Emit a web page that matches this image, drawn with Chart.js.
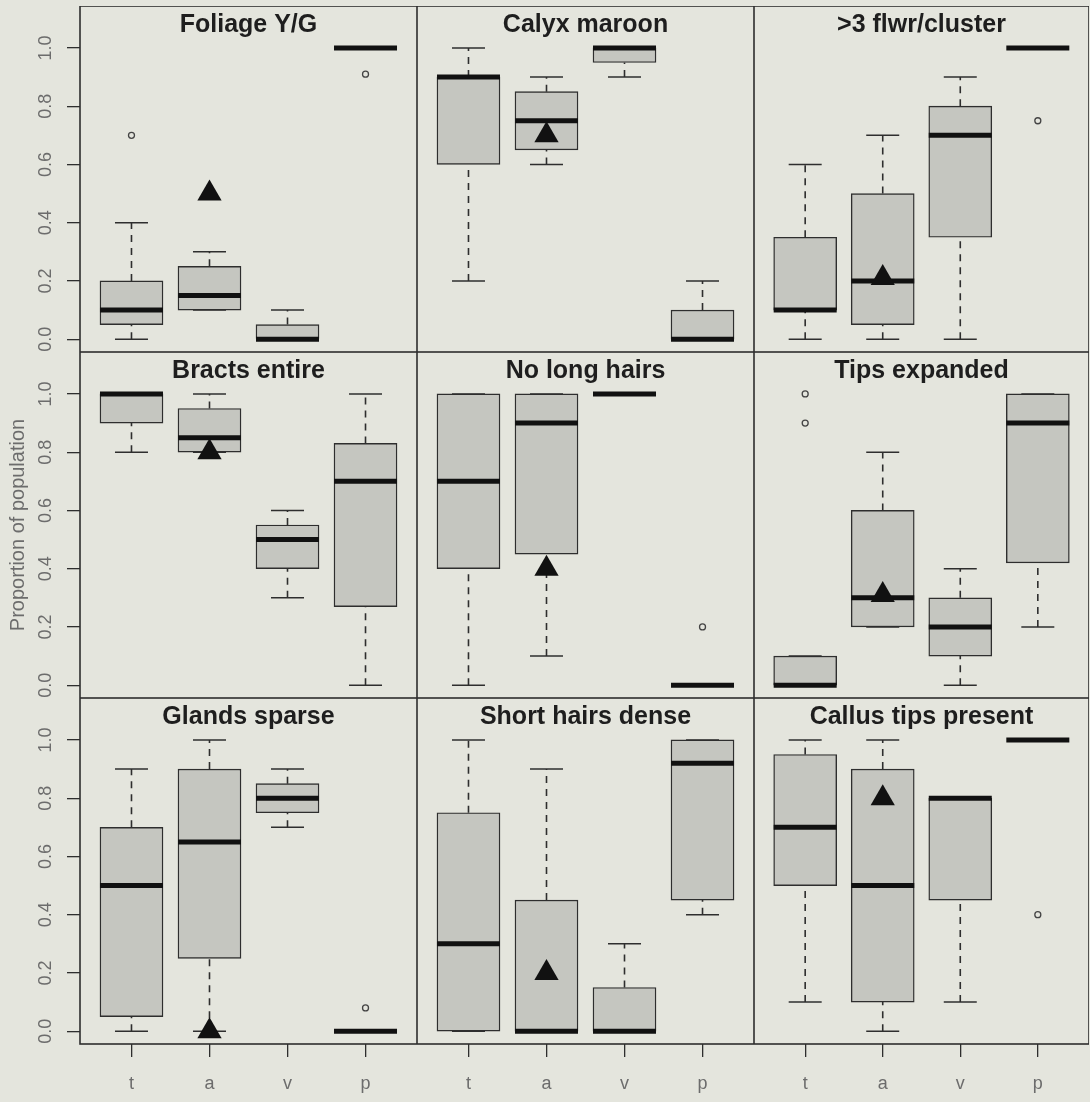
<!DOCTYPE html>
<html>
<head>
<meta charset="utf-8">
<script src="https://cdn.jsdelivr.net/npm/chart.js@4.4.1/dist/chart.umd.min.js"></script>
<style>
    html, body { margin: 0; padding: 0; background: #e4e5dd; }
    #wrap { position: relative; width: 1090px; height: 1102px; overflow: hidden; }
    #wrap canvas { position: absolute; }
</style>
</head>
<body>
<div id="wrap"></div>
<script>
var categories = ['t', 'a', 'v', 'p'];
var titles = ['Foliage Y/G', 'Calyx maroon', '>3 flwr/cluster',
              'Bracts entire', 'No long hairs', 'Tips expanded',
              'Glands sparse', 'Short hairs dense', 'Callus tips present'];
var yTicks = [0, 0.2, 0.4, 0.6, 0.8, 1.0];
var yTitle = 'Proportion of population';

// one row per panel, one value per category (t, a, v, p)
var whiskerLow = [
    [0, 0.1, 0, 1], [0.2, 0.6, 0.9, 0], [0, 0, 0, 1],
    [0.8, 0.8, 0.3, 0], [0, 0.1, 1, 0], [0, 0.2, 0, 0.2],
    [0, 0, 0.7, 0], [0, 0, 0, 0.4], [0.1, 0, 0.1, 1]
];
var quartileLow = [
    [0.05, 0.1, 0, 1], [0.6, 0.65, 0.95, 0], [0.1, 0.05, 0.35, 1],
    [0.9, 0.8, 0.4, 0.27], [0.4, 0.45, 1, 0], [0, 0.2, 0.1, 0.42],
    [0.05, 0.25, 0.75, 0], [0, 0, 0, 0.45], [0.5, 0.1, 0.45, 1]
];
var medians = [
    [0.1, 0.15, 0, 1], [0.9, 0.75, 1, 0], [0.1, 0.2, 0.7, 1],
    [1, 0.85, 0.5, 0.7], [0.7, 0.9, 1, 0], [0, 0.3, 0.2, 0.9],
    [0.5, 0.65, 0.8, 0], [0.3, 0, 0, 0.92], [0.7, 0.5, 0.8, 1]
];
var quartileHigh = [
    [0.2, 0.25, 0.05, 1], [0.9, 0.85, 1, 0.1], [0.35, 0.5, 0.8, 1],
    [1, 0.95, 0.55, 0.83], [1, 1, 1, 0], [0.1, 0.6, 0.3, 1],
    [0.7, 0.9, 0.85, 0], [0.75, 0.45, 0.15, 1], [0.95, 0.9, 0.8, 1]
];
var whiskerHigh = [
    [0.4, 0.3, 0.1, 1], [1, 0.9, 1, 0.2], [0.6, 0.7, 0.9, 1],
    [1, 1, 0.6, 1], [1, 1, 1, 0], [0.1, 0.8, 0.4, 1],
    [0.9, 1, 0.9, 0], [1, 0.9, 0.3, 1], [1, 1, 0.8, 1]
];
var outliers = [
    [[0.7], [], [], [0.91]], [[], [], [], []], [[], [], [], [0.75]],
    [[], [], [], []], [[], [], [], [0.2]], [[1, 0.9], [], [], []],
    [[], [], [], [0.08]], [[], [], [], []], [[], [], [], [0.4]]
];
// triangle marker, drawn at category "a"
var triangleValues = [0.5, 0.7, 0.21, 0.8, 0.4, 0.31, 0, 0.2, 0.8];

var BG = '#e4e5dd';
var BOX = '#c5c6c0';
var INK = '#2e2e2e';
var LABEL = '#6c6c6c';

var panelLeft = [80, 417, 754];
var panelWidth = [337, 337, 335];
var panelTop = [6, 352, 698];
var panelHeight = 346;
var yAxisWidth = 80;
var xAxisHeight = 58;

var framePlugin = {
    id: 'frame',
    afterDatasetsDraw: function (chart) {
        var a = chart.chartArea;
        var ctx = chart.ctx;
        ctx.save();
        ctx.strokeStyle = INK;
        ctx.lineWidth = 1.6;
        ctx.strokeRect(a.left, a.top, a.right - a.left, a.bottom - a.top);
        ctx.restore();
    }
};

var panelTitlePlugin = {
    id: 'panelTitle',
    afterDatasetsDraw: function (chart, args, opts) {
        var a = chart.chartArea;
        var ctx = chart.ctx;
        ctx.save();
        ctx.fillStyle = '#1e1e1e';
        ctx.font = 'bold 25px "Liberation Sans", Arial, sans-serif';
        ctx.textAlign = 'center';
        ctx.textBaseline = 'alphabetic';
        ctx.fillText(opts.text, (a.left + a.right) / 2, a.top + 26);
        ctx.restore();
    }
};

function noPadding(s) {
    s.paddingLeft = 0;
    s.paddingRight = 0;
    s.paddingTop = 0;
    s.paddingBottom = 0;
}

function buildPanel(i) {
    var r = Math.floor(i / 3), c = i % 3;
    var left = c === 0 ? 0 : panelLeft[c];
    var width = c === 0 ? yAxisWidth + panelWidth[0] : panelWidth[c];
    var height = r === 2 ? panelHeight + xAxisHeight : panelHeight;
    var showX = r === 2, showY = c === 0;

    var canvas = document.createElement('canvas');
    canvas.width = width;
    canvas.height = height;
    canvas.style.left = left + 'px';
    canvas.style.top = panelTop[r] + 'px';
    canvas.style.width = width + 'px';
    canvas.style.height = height + 'px';
    document.getElementById('wrap').appendChild(canvas);

    var boxes = [], whiskers = [], caps = [], mids = [], outs = [];
    categories.forEach(function (cat, j) {
        var x = j + 1;
        boxes.push({ x: x, y: [quartileLow[i][j], quartileHigh[i][j]] });
        whiskers.push({ x: x, y: quartileHigh[i][j] }, { x: x, y: whiskerHigh[i][j] }, { x: x, y: null });
        whiskers.push({ x: x, y: whiskerLow[i][j] }, { x: x, y: quartileLow[i][j] }, { x: x, y: null });
        caps.push({ x: x, y: whiskerLow[i][j] }, { x: x, y: whiskerHigh[i][j] });
        mids.push({ x: x, y: medians[i][j] });
        outliers[i][j].forEach(function (v) {
            outs.push({ x: x, y: v });
        });
    });

    var tickFont = { family: '"Liberation Sans", Arial, sans-serif', size: 18 };

    var config = {
        type: 'bar',
        data: {
            datasets: [{
                type: 'bar',
                data: boxes,
                backgroundColor: BOX,
                borderColor: INK,
                borderWidth: 1.4,
                borderSkipped: false,
                barThickness: 63,
                order: 5
            }, {
                type: 'line',
                data: whiskers,
                borderColor: INK,
                borderWidth: 1.6,
                borderDash: [7, 6],
                pointRadius: 0,
                spanGaps: false,
                order: 4
            }, {
                type: 'line',
                data: caps,
                showLine: false,
                pointStyle: 'line',
                pointRadius: 16.5,
                pointBorderWidth: 1.6,
                pointBorderColor: INK,
                order: 3
            }, {
                type: 'line',
                data: mids,
                showLine: false,
                pointStyle: 'line',
                pointRadius: 31.5,
                pointBorderWidth: 5,
                pointBorderColor: '#111111',
                order: 2
            }, {
                type: 'line',
                data: outs,
                showLine: false,
                pointStyle: 'circle',
                pointRadius: 3,
                pointBorderWidth: 1.3,
                pointBorderColor: '#444444',
                pointBackgroundColor: BG,
                order: 1
            }, {
                type: 'line',
                data: [{ x: 2, y: triangleValues[i] }],
                showLine: false,
                pointStyle: 'triangle',
                pointRadius: 14,
                pointBorderWidth: 0,
                pointBackgroundColor: '#111111',
                order: 0
            }]
        },
        options: {
            responsive: false,
            animation: false,
            events: [],
            layout: { padding: 0, autoPadding: false },
            plugins: {
                legend: { display: false },
                tooltip: { enabled: false },
                panelTitle: { text: titles[i] }
            },
            scales: {
                x: {
                    type: 'linear',
                    min: 0.34,
                    max: 4.66,
                    offset: false,
                    display: showX,
                    afterBuildTicks: function (s) {
                        s.ticks = categories.map(function (cat, j) { return { value: j + 1 }; });
                    },
                    afterFit: function (s) {
                        s.height = showX ? xAxisHeight : 0;
                        noPadding(s);
                    },
                    ticks: {
                        autoSkip: false,
                        maxRotation: 0,
                        padding: 16,
                        color: LABEL,
                        font: tickFont,
                        callback: function (v) { return categories[v - 1]; }
                    },
                    grid: { offset: false, drawOnChartArea: false, tickLength: 13, color: INK, lineWidth: 1.3 },
                    border: { display: false }
                },
                y: {
                    type: 'linear',
                    min: -0.044,
                    max: 1.144,
                    display: showY,
                    afterBuildTicks: function (s) {
                        s.ticks = yTicks.map(function (v) { return { value: v }; });
                    },
                    afterFit: function (s) {
                        s.width = showY ? yAxisWidth : 0;
                        noPadding(s);
                    },
                    title: {
                        display: r === 1,
                        text: yTitle,
                        color: LABEL,
                        font: { family: '"Liberation Sans", Arial, sans-serif', size: 20 },
                        padding: { top: 6, bottom: 0 }
                    },
                    ticks: {
                        autoSkip: false,
                        minRotation: 90,
                        maxRotation: 90,
                        crossAlign: 'center',
                        padding: 8,
                        color: LABEL,
                        font: tickFont,
                        callback: function (v) { return v.toFixed(1); }
                    },
                    grid: { drawOnChartArea: false, tickLength: 13, color: INK, lineWidth: 1.3 },
                    border: { display: false }
                }
            }
        },
        plugins: [framePlugin, panelTitlePlugin]
    };

    return new Chart(canvas.getContext('2d'), config);
}

for (var i = 0; i < titles.length; i++) {
    buildPanel(i);
}
</script>
</body>
</html>
